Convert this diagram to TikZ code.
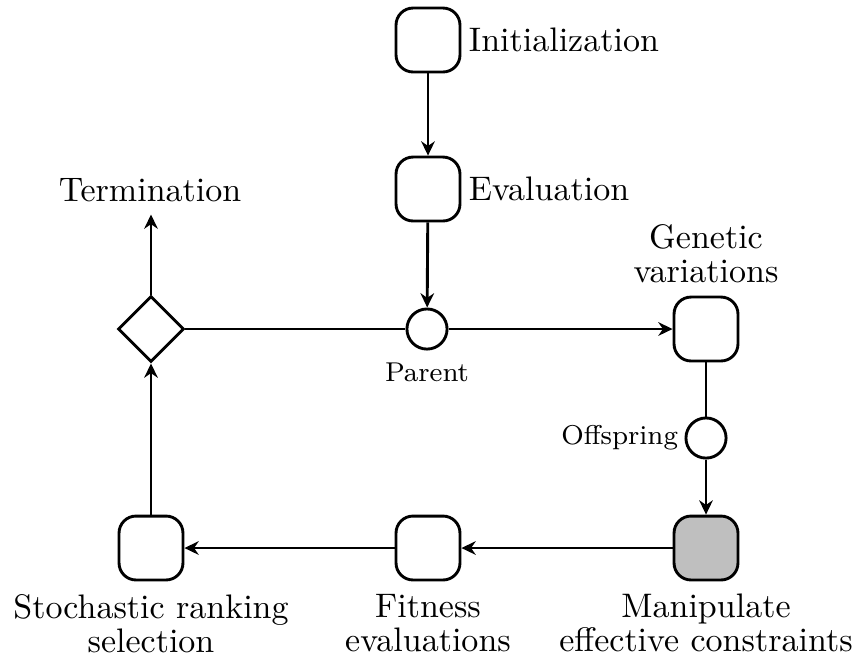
\documentclass[tikz,border=0pt]{standalone}
\usetikzlibrary{arrows.meta,shapes.geometric}
\begin{document}
\begin{tikzpicture}[x=0.294pt,y=-0.294pt,
  line width=0.85pt,
  stepbox/.style={draw,rounded corners=5pt,minimum size=18.8pt,inner sep=0pt},
  joint/.style={draw,circle,minimum size=11.8pt,inner sep=0pt},
  decide/.style={draw,diamond,minimum size=19.4pt,inner sep=0pt},
  arr/.style={-{Stealth[length=4.2pt,width=4pt]}},
  lbl/.style={align=center}]
\useasboundingbox (0,0) rectangle (854,659);
\node[stepbox] (init) at (428,40) {};
\node[stepbox] (eval) at (428,189) {};
\node[joint] (parent) at (427,329) {};
\node[decide] (dec) at (151,329) {};
\node[stepbox] (gen) at (706,329) {};
\node[joint] (off) at (706,438) {};
\node[stepbox,fill=gray!50] (man) at (706,548) {};
\node[stepbox] (fit) at (428,548) {};
\node[stepbox] (sto) at (151,548) {};

\node[anchor=west,inner sep=1.8pt] (linit) at (init.east) {Initialization};
\node[anchor=west,inner sep=1.8pt] (leval) at (eval.east) {Evaluation};
\node[anchor=north,font=\footnotesize] (lpar) at (parent.south) {Parent};
\node[anchor=east,font=\footnotesize,inner sep=1.5pt] (loff) at (off.west) {Offspring};
\node[anchor=south,lbl] (lgen) at (gen.north) {Genetic\\[-2pt]variations};
\node[anchor=north,lbl] (lman) at (man.south) {Manipulate\\[-2pt]effective constraints};
\node[anchor=north,lbl] (lfit) at (fit.south) {Fitness\\[-2pt]evaluations};
\node[anchor=north,lbl] (lsto) at (sto.south) {Stochastic ranking\\[-2pt]selection};
\node (term) at (150,190) {Termination};

\draw[arr] (init) -- (eval);
\draw[arr] (eval) -- (parent);
\draw (dec) -- (parent);
\draw[arr] (parent) -- (gen);
\draw (gen) -- (off);
\draw[arr] (off) -- (man);
\draw[arr] (man) -- (fit);
\draw[arr] (fit) -- (sto);
\draw[arr] (sto) -- (dec);
\draw[arr] (dec) -- (dec.north |- term.south);
\end{tikzpicture}
\end{document}
